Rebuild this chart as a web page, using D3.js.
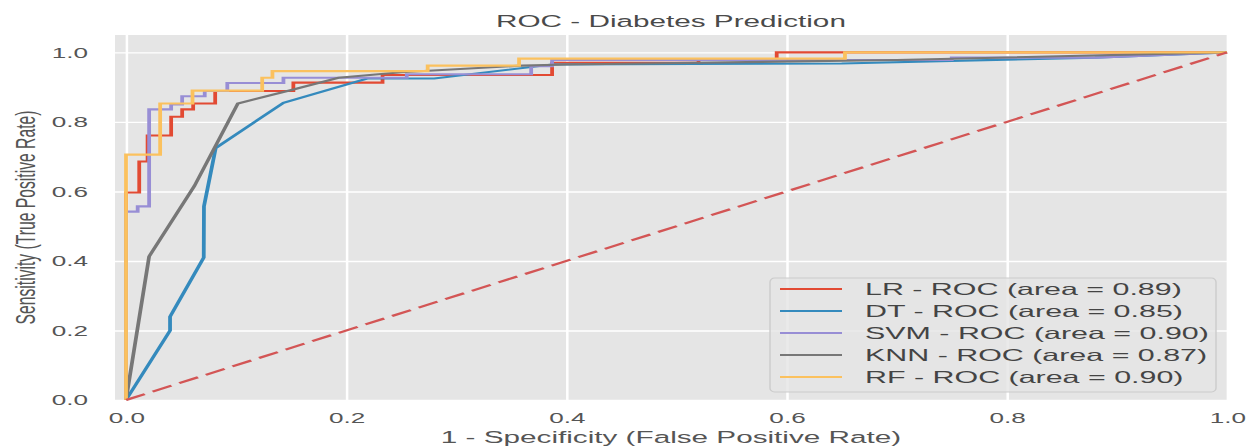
<!DOCTYPE html>
<html>
<head>
<meta charset="utf-8">
<script src="https://cdn.jsdelivr.net/npm/d3@7"></script>
<style>
  html, body { margin: 0; padding: 0; background: #fff; }
  svg { display: block; font-family: "Liberation Sans", Arial, Helvetica, sans-serif; }
</style>
</head>
<body>
<div id="chart"></div>
<script>
// ROC curves for five classifiers on the diabetes data set
const models = ["LR", "DT", "SVM", "KNN", "RF"];
const aucs = [0.89, 0.85, 0.90, 0.87, 0.90];

const lrFpr = [0, 0, 0.012, 0.012, 0.0196, 0.0196, 0.041, 0.041, 0.051, 0.051, 0.061, 0.061, 0.081, 0.081, 0.152, 0.152, 0.233, 0.233, 0.387, 0.387, 0.52, 0.52, 0.591, 0.591, 1.0];
const lrTpr = [0, 0.597, 0.597, 0.686, 0.686, 0.761, 0.761, 0.815, 0.815, 0.836, 0.836, 0.853, 0.853, 0.889, 0.889, 0.913, 0.913, 0.935, 0.935, 0.97, 0.97, 0.98, 0.98, 1.0, 1.0];

const dtFpr = [0, 0.040, 0.040, 0.0706, 0.0708, 0.0815, 0.143, 0.219, 0.28, 0.387, 0.65, 0.88, 1.0];
const dtTpr = [0, 0.20, 0.24, 0.41, 0.557, 0.725, 0.855, 0.925, 0.925, 0.965, 0.968, 0.985, 1.0];

const svmFpr = [0, 0, 0.0106, 0.0106, 0.021, 0.021, 0.041, 0.041, 0.051, 0.051, 0.0715, 0.0715, 0.092, 0.092, 0.143, 0.143, 0.255, 0.255, 0.368, 0.368, 0.387, 0.387, 0.75, 0.75, 0.88, 1.0];
const svmTpr = [0, 0.542, 0.542, 0.557, 0.557, 0.836, 0.836, 0.85, 0.85, 0.874, 0.874, 0.889, 0.889, 0.912, 0.912, 0.927, 0.927, 0.937, 0.937, 0.96, 0.96, 0.978, 0.978, 0.985, 0.985, 1.0];

const knnFpr = [0, 0.021, 0.062, 0.1016, 0.152, 0.193, 0.25, 0.36, 0.40, 0.70, 1.0];
const knnTpr = [0, 0.413, 0.615, 0.853, 0.893, 0.927, 0.943, 0.962, 0.965, 0.978, 1.0];

const rfFpr = [0, 0, 0.031, 0.031, 0.0604, 0.0604, 0.1237, 0.1237, 0.133, 0.133, 0.274, 0.274, 0.357, 0.357, 0.653, 0.653, 1.0];
const rfTpr = [0, 0.706, 0.706, 0.853, 0.853, 0.890, 0.890, 0.927, 0.927, 0.946, 0.946, 0.962, 0.962, 0.982, 0.982, 1.0, 1.0];

// chance line
const diagX = [0, 1];
const diagY = [0, 1];

const xTicks = [0, 0.2, 0.4, 0.6, 0.8, 1.0];
const yTicks = [0, 0.2, 0.4, 0.6, 0.8, 1.0];

const palette = ["#E24A33", "#348ABD", "#988ED5", "#777777", "#FBC15E"];

const fprs = [lrFpr, dtFpr, svmFpr, knnFpr, rfFpr];
const tprs = [lrTpr, dtTpr, svmTpr, knnTpr, rfTpr];

// ---- layout ----
const W = 1257, H = 447;
const SX = 1.8;          // the figure is drawn horizontally stretched
const pxLeft = 115, pxRight = 1227, plotTop = 35, plotBottom = 400;

const svg = d3.select("#chart").append("svg")
  .attr("width", W).attr("height", H);

const g = svg.append("g").attr("transform", `scale(${SX},1)`);

const x = d3.scaleLinear().domain([-0.01, 1.0]).range([pxLeft / SX, pxRight / SX]);
const y = d3.scaleLinear().domain([0, 1.05]).range([plotBottom, plotTop]);

// axes background
g.append("rect")
  .attr("x", x.range()[0]).attr("y", plotTop)
  .attr("width", x.range()[1] - x.range()[0]).attr("height", plotBottom - plotTop)
  .attr("fill", "#E5E5E5");

// grid
const gx = g.append("g").attr("transform", `translate(0,${plotBottom})`)
  .call(d3.axisBottom(x).tickValues(xTicks).tickSize(-(plotBottom - plotTop)).tickFormat(""));
const gy = g.append("g").attr("transform", `translate(${x.range()[0]},0)`)
  .call(d3.axisLeft(y).tickValues(yTicks).tickSize(-(x.range()[1] - x.range()[0])).tickFormat(""));
[gx, gy].forEach(a => {
  a.select(".domain").remove();
  a.selectAll("line").attr("stroke", "#FFFFFF").attr("stroke-width", 1.4);
});

// tick labels
const fmt = d3.format(".1f");
const ax = g.append("g").attr("transform", `translate(0,${plotBottom})`)
  .call(d3.axisBottom(x).tickValues(xTicks).tickFormat(fmt).tickSize(0).tickPadding(13));
const ay = g.append("g").attr("transform", `translate(${x.range()[0]},0)`)
  .call(d3.axisLeft(y).tickValues(yTicks).tickFormat(fmt).tickSize(0).tickPadding(15));
[ax, ay].forEach(a => {
  a.select(".domain").remove();
  a.selectAll("text")
    .attr("fill", "#555555")
    .style("font-size", "14.5px")
    .style("font-family", "'Liberation Sans', Arial, sans-serif");
});

// ROC curves
const line = d3.line().x(d => x(d[0])).y(d => y(d[1]));
models.forEach((m, i) => {
  const pts = fprs[i].map((f, k) => [f, tprs[i][k]]);
  g.append("path")
    .datum(pts)
    .attr("d", line)
    .attr("fill", "none")
    .attr("stroke", palette[i])
    .attr("stroke-width", 2.1)
    .attr("stroke-linejoin", "miter");
});

// chance diagonal
g.append("path")
  .datum(diagX.map((v, k) => [v, diagY[k]]))
  .attr("d", line)
  .attr("fill", "none")
  .attr("stroke", "#D35555")
  .attr("stroke-width", 2.1)
  .attr("stroke-dasharray", "12,5");

// title and axis labels
const midX = (pxLeft + pxRight) / 2 / SX;
g.append("text")
  .attr("x", midX).attr("y", 26.7)
  .attr("text-anchor", "middle")
  .attr("fill", "#4a4a4a")
  .style("font-size", "16.5px")
  .text("ROC - Diabetes Prediction");

g.append("text")
  .attr("x", midX).attr("y", 443.3)
  .attr("text-anchor", "middle")
  .attr("fill", "#555555")
  .style("font-size", "16.5px")
  .text("1 - Specificity (False Positive Rate)");

g.append("text")
  .attr("transform", `translate(${35 / SX},${(plotTop + plotBottom) / 2}) rotate(-90)`)
  .attr("text-anchor", "middle")
  .attr("fill", "#555555")
  .style("font-size", "15.7px")
  .text("Sensitivity (True Positive Rate)");

// legend
const lg = g.append("g");
lg.append("rect")
  .attr("x", 770 / SX).attr("y", 278)
  .attr("width", (1216 - 770) / SX).attr("height", 392 - 278)
  .attr("rx", 2.5).attr("ry", 4)
  .attr("fill", "#E5E5E5").attr("fill-opacity", 0.8)
  .attr("stroke", "#CCCCCC").attr("stroke-width", 0.8);

models.forEach((m, i) => {
  const ry = 289 + 22 * i;
  lg.append("line")
    .attr("x1", 780 / SX).attr("x2", 842 / SX)
    .attr("y1", ry).attr("y2", ry)
    .attr("stroke", palette[i]).attr("stroke-width", 1.8);
  lg.append("text")
    .attr("x", 865 / SX).attr("y", ry + 6)
    .attr("fill", "#444444")
    .style("font-size", "16.9px")
    .text(`${m} - ROC (area = ${aucs[i].toFixed(2)})`);
});
</script>
</body>
</html>
